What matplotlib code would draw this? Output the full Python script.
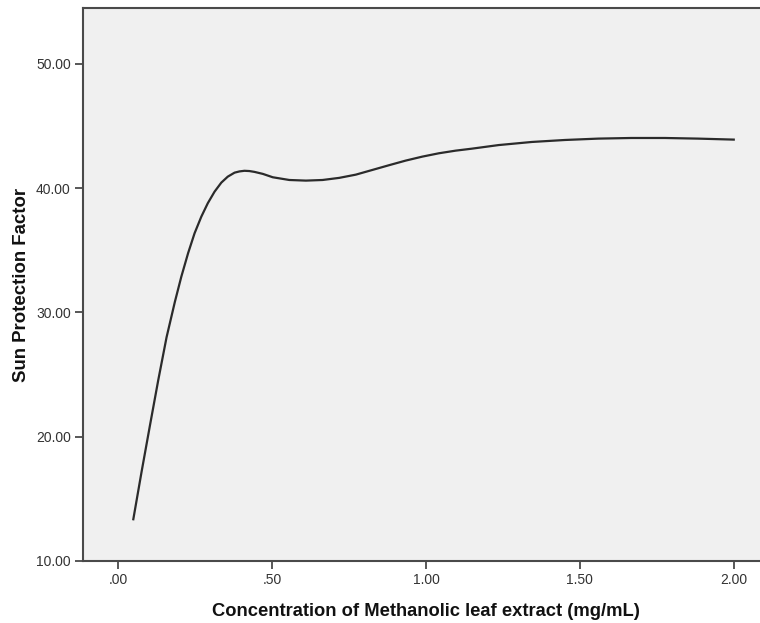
import numpy as np
import matplotlib
matplotlib.use('Agg')
import matplotlib.pyplot as plt
from matplotlib.ticker import FuncFormatter

# Values in the reference picture
conc = [0.049, 0.076, 0.103, 0.130, 0.157, 0.184, 0.205, 0.227, 0.248, 0.270,
        0.291, 0.313, 0.335, 0.356, 0.378, 0.394, 0.410, 0.426, 0.443, 0.470,
        0.502, 0.556, 0.610, 0.664, 0.718, 0.772, 0.826, 0.880, 0.934, 0.988,
        1.042, 1.096, 1.149, 1.236, 1.344, 1.452, 1.560, 1.667, 1.776, 1.883,
        2.000]
spf = [13.36, 17.20, 20.90, 24.55, 28.00, 30.85, 32.88, 34.77, 36.37, 37.71,
       38.79, 39.72, 40.45, 40.93, 41.25, 41.35, 41.40, 41.38, 41.31, 41.15,
       40.88, 40.66, 40.61, 40.66, 40.83, 41.09, 41.47, 41.85, 42.22, 42.54,
       42.81, 43.02, 43.18, 43.47, 43.72, 43.88, 43.99, 44.04, 44.04, 43.99,
       43.91]

x_ticks = [0.0, 0.5, 1.0, 1.5, 2.0]
y_ticks = [10, 20, 30, 40, 50]

plt.rcParams['font.family'] = ['Liberation Sans', 'DejaVu Sans']

fig = plt.figure(figsize=(7.6, 6.23), dpi=100)
ax = fig.add_axes([83.3 / 760, 62 / 623, 1 - 83.3 / 760 + 0.01, 553 / 623])
ax.set_facecolor('#f0f0f0')

ax.plot(conc, spf, color='#2b2b2b', linewidth=1.6, solid_joinstyle='round')

ax.set_xlim(-0.1135, 2.11)
ax.set_ylim(10, 54.5)
ax.set_xticks(x_ticks)
ax.set_yticks(y_ticks)

def fmt(v, pos):
    s = f'{v:.2f}'
    return s[1:] if s.startswith('0') else s

ax.xaxis.set_major_formatter(FuncFormatter(fmt))
ax.yaxis.set_major_formatter(FuncFormatter(fmt))

for side in ['left', 'top', 'bottom']:
    ax.spines[side].set_color('#4a4a4a')
    ax.spines[side].set_linewidth(1.5)
ax.spines['right'].set_visible(False)

ax.tick_params(direction='out', length=6, width=1.3, color='#4a4a4a',
               labelsize=10, labelcolor='#333333', pad=3)

ax.set_xlabel('Concentration of Methanolic leaf extract (mg/mL)',
              fontsize=13.2, fontweight='bold', color='#111111', labelpad=11)
ax.set_ylabel('Sun Protection Factor',
              fontsize=13.4, fontweight='bold', color='#111111', labelpad=4)

fig.savefig('out.png', dpi=100, facecolor='white')
